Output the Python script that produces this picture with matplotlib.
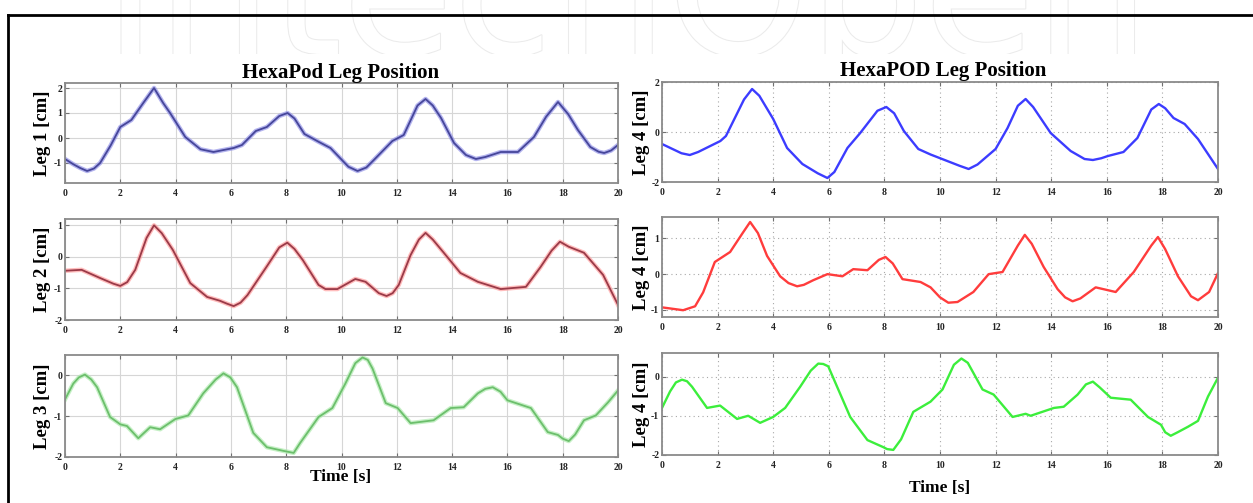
import numpy as np
import matplotlib
matplotlib.use("Agg")
import matplotlib.pyplot as plt
from matplotlib.lines import Line2D
import matplotlib.patheffects as pe

plt.rcParams.update({
    "font.family": "Liberation Serif", "axes.unicode_minus": False,
    "xtick.direction": "in", "ytick.direction": "in",
    "xtick.top": True, "ytick.right": True,
})

# ---- data: time [s] and position [cm] ----
leg1_t = [0, 0.3, 0.55, 0.8, 1.05, 1.27, 1.65, 2.0, 2.4, 2.83, 3.22, 3.55, 3.8, 4.35,
          4.9, 5.37, 6.1, 6.4, 6.9, 7.3, 7.75, 8.05, 8.3, 8.66, 9.17, 9.6, 10.25,
          10.58, 10.9, 11.17, 11.84, 12.25, 12.75, 13.04, 13.3, 13.6, 14.07, 14.5,
          14.86, 15.2, 15.76, 16.38, 16.96, 17.4, 17.83, 18.2, 18.55, 19.0, 19.3,
          19.5, 19.75, 20]
leg1_v = [-0.84, -1.05, -1.2, -1.32, -1.22, -1.0, -0.3, 0.44, 0.72, 1.4, 2.0, 1.4,
          1.0, 0.04, -0.45, -0.56, -0.4, -0.28, 0.28, 0.44, 0.88, 1.0, 0.78, 0.16,
          -0.15, -0.4, -1.15, -1.32, -1.18, -0.88, -0.12, 0.12, 1.3, 1.56, 1.3, 0.8,
          -0.2, -0.68, -0.84, -0.76, -0.56, -0.56, 0.04, 0.85, 1.44, 0.95, 0.32,
          -0.36, -0.55, -0.6, -0.5, -0.28]

leg2_t = [0, 0.6, 1.27, 1.75, 2.0, 2.25, 2.54, 2.95, 3.22, 3.5, 3.9, 4.53, 5.14, 5.6,
          5.85, 6.1, 6.35, 6.6, 7.3, 7.75, 8.04, 8.3, 8.6, 9.17, 9.42, 9.85, 10.5,
          10.87, 11.35, 11.63, 11.85, 12.07, 12.5, 12.8, 13.04, 13.3, 13.7, 14.3,
          14.93, 15.76, 16.67, 17.2, 17.6, 17.9, 18.22, 18.77, 19.46, 20]
leg2_v = [-0.44, -0.41, -0.67, -0.85, -0.92, -0.8, -0.41, 0.6, 1.0, 0.75, 0.22, -0.83,
          -1.27, -1.39, -1.48, -1.56, -1.45, -1.21, -0.3, 0.3, 0.45, 0.25, -0.1,
          -0.89, -1.02, -1.02, -0.7, -0.79, -1.15, -1.24, -1.15, -0.89, 0.06, 0.55,
          0.76, 0.55, 0.13, -0.51, -0.79, -1.02, -0.95, -0.32, 0.2, 0.48, 0.32, 0.13,
          -0.57, -1.52]

leg3_t = [0, 0.3, 0.5, 0.72, 0.95, 1.16, 1.63, 2.0, 2.24, 2.65, 3.08, 3.44, 3.99,
          4.46, 5.0, 5.45, 5.73, 5.98, 6.22, 6.81, 7.3, 7.9, 8.27, 8.5, 9.17, 9.67,
          10.14, 10.5, 10.76, 10.95, 11.12, 11.6, 12.03, 12.5, 13.33, 13.95, 14.42,
          14.93, 15.2, 15.47, 15.75, 16.0, 16.85, 17.46, 17.83, 18.0, 18.22, 18.45,
          18.77, 19.2, 19.64, 20]
leg3_v = [-0.59, -0.2, -0.05, 0.02, -0.1, -0.29, -1.02, -1.2, -1.24, -1.54, -1.27,
          -1.32, -1.07, -0.98, -0.44, -0.1, 0.05, -0.05, -0.29, -1.41, -1.76, -1.85,
          -1.9, -1.66, -1.02, -0.8, -0.2, 0.3, 0.44, 0.38, 0.17, -0.68, -0.8, -1.17,
          -1.1, -0.8, -0.78, -0.44, -0.33, -0.29, -0.4, -0.61, -0.8, -1.39, -1.46,
          -1.55, -1.61, -1.45, -1.1, -0.98, -0.66, -0.37]

leg4a_t = [0, 0.7, 1.0, 1.3, 2.1, 2.3, 2.95, 3.24, 3.5, 4.0, 4.5, 5.05, 5.6, 5.95,
           6.2, 6.67, 7.13, 7.75, 8.07, 8.35, 8.7, 9.22, 9.66, 10.7, 11.03, 11.35,
           12.0, 12.43, 12.8, 13.08, 13.35, 13.98, 14.7, 15.2, 15.5, 15.8, 16.04,
           16.6, 17.1, 17.6, 17.87, 18.1, 18.4, 18.8, 19.28, 20]
leg4a_v = [-0.48, -0.85, -0.92, -0.8, -0.36, -0.16, 1.3, 1.72, 1.45, 0.52, -0.64,
           -1.28, -1.65, -1.84, -1.6, -0.64, -0.04, 0.85, 1.0, 0.75, 0.04, -0.68,
           -0.9, -1.35, -1.48, -1.3, -0.68, 0.16, 1.05, 1.32, 1.0, -0.04, -0.76,
           -1.08, -1.12, -1.05, -0.96, -0.8, -0.24, 0.9, 1.12, 0.95, 0.56, 0.32,
           -0.28, -1.48]

leg4b_t = [0, 0.76, 1.19, 1.48, 1.9, 2.45, 2.9, 3.17, 3.45, 3.78, 4.25, 4.55, 4.86,
           5.1, 5.44, 5.95, 6.49, 6.88, 7.39, 7.8, 8.04, 8.3, 8.65, 9.3, 9.66, 10.0,
           10.3, 10.63, 11.2, 11.75, 12.25, 12.8, 13.05, 13.3, 13.73, 14.23, 14.5,
           14.77, 15.05, 15.6, 16.32, 16.97, 17.6, 17.84, 18.1, 18.56, 19.03, 19.28,
           19.68, 20]
leg4b_v = [-0.93, -1.01, -0.9, -0.51, 0.34, 0.62, 1.15, 1.46, 1.15, 0.51, -0.06,
           -0.25, -0.34, -0.3, -0.17, 0.0, -0.06, 0.14, 0.11, 0.4, 0.48, 0.3, -0.14,
           -0.22, -0.37, -0.65, -0.8, -0.78, -0.5, 0.0, 0.06, 0.8, 1.1, 0.85, 0.2,
           -0.42, -0.65, -0.76, -0.68, -0.37, -0.5, 0.06, 0.8, 1.04, 0.7, -0.06,
           -0.62, -0.73, -0.5, 0.03]

leg4c_t = [0, 0.29, 0.5, 0.72, 0.9, 1.08, 1.62, 2.09, 2.7, 3.1, 3.53, 4.0, 4.43,
           4.97, 5.35, 5.62, 5.8, 5.98, 6.77, 7.39, 7.96, 8.1, 8.32, 8.6, 9.04, 9.66,
           10.09, 10.5, 10.77, 11.0, 11.53, 11.93, 12.61, 13.08, 13.26, 14.1, 14.45,
           14.95, 15.25, 15.5, 15.75, 16.14, 16.86, 17.48, 17.95, 18.1, 18.3, 18.55,
           18.92, 19.28, 19.64, 20]
leg4c_v = [-0.8, -0.38, -0.15, -0.08, -0.12, -0.26, -0.8, -0.74, -1.08, -1.0, -1.18,
           -1.03, -0.8, -0.26, 0.15, 0.33, 0.32, 0.26, -1.03, -1.62, -1.8, -1.85,
           -1.87, -1.6, -0.9, -0.64, -0.33, 0.3, 0.46, 0.35, -0.33, -0.46, -1.03,
           -0.95, -1.0, -0.8, -0.77, -0.46, -0.2, -0.13, -0.28, -0.54, -0.59, -1.03,
           -1.23, -1.42, -1.51, -1.42, -1.28, -1.13, -0.51, -0.03]

W, H = 1253, 503
fig = plt.figure(figsize=(W / 100, H / 100), dpi=100)


def px_axes(x0, y0, x1, y1):
    return fig.add_axes([x0 / W, 1 - y1 / H, (x1 - x0) / W, (y1 - y0) / H])


# faint watermark across the top, clipped to the top band
wm = px_axes(0, 0, W, 54)
wm.set_axis_off()
wm.set_zorder(-10)
wm.text(0.5, 0.0, "IntechOpen", transform=wm.transAxes, ha="center",
        va="baseline", fontsize=130, family="DejaVu Sans", color="white",
        clip_on=True,
        path_effects=[pe.withStroke(linewidth=1.5, foreground="#ebebeb")])

# (bbox, data, ylim, yticks, ylabel, colours, left column?)
panels = [
    ((65, 83, 618, 183), (leg1_t, leg1_v), (-1.8, 2.2), [-1, 0, 1, 2], "Leg 1 [cm]",
     ("#9494e8", "#46469a"), True),
    ((65, 219, 618, 320), (leg2_t, leg2_v), (-2, 1.2), [-2, -1, 0, 1], "Leg 2 [cm]",
     ("#ffa0a0", "#9a3a48"), True),
    ((65, 355, 618, 457), (leg3_t, leg3_v), (-2, 0.5), [-2, -1, 0], "Leg 3 [cm]",
     ("#aeeaae", "#6cbf6c"), True),
    ((662, 82, 1218, 182), (leg4a_t, leg4a_v), (-2, 2), [-2, 0, 2], "Leg 4 [cm]",
     (None, "#3c3cff"), False),
    ((662, 217, 1218, 317), (leg4b_t, leg4b_v), (-1.2, 1.6), [-1, 0, 1], "Leg 4 [cm]",
     (None, "#ff3c3c"), False),
    ((662, 353, 1218, 455), (leg4c_t, leg4c_v), (-2, 0.6), [-2, -1, 0], "Leg 4 [cm]",
     (None, "#3cee3c"), False),
]

for bbox, (t, v), ylim, yt, ylab, (halo, core), left in panels:
    ax = px_axes(*bbox)
    if halo:
        ax.plot(t, v, color=halo, lw=3.2, alpha=0.7, solid_joinstyle="round")
        ax.plot(t, v, color=core, lw=1.3, solid_joinstyle="round")
    else:
        ax.plot(t, v, color=core, lw=1.7, solid_joinstyle="round")
    ax.set_xlim(0, 20)
    ax.set_ylim(*ylim)
    ax.set_xticks(range(0, 21, 2))
    ax.set_yticks(yt)
    ax.tick_params(length=3, width=0.8, color="#707070", pad=4, labelsize=7)
    ax.tick_params(axis="y", pad=2)
    for lb in ax.get_xticklabels() + ax.get_yticklabels():
        lb.set_fontweight("bold")
        lb.set_color("#222222")
    if left:
        ax.grid(True, color="#d6d6d6", lw=0.8, ls="-")
    else:
        ax.grid(True, color="#a8a8a8", lw=0.8, ls=(0, (1, 3)))
    for s in ax.spines.values():
        s.set_color("#8a8a8a")
        s.set_linewidth(1.3)
    ax.set_ylabel(ylab, fontsize=13.5, fontweight="bold", labelpad=2 if left else 1)

fig.text(341 / W, 1 - 73 / H, "HexaPod Leg Position", ha="center", va="center",
         fontsize=15, fontweight="bold")
fig.text(943 / W, 1 - 71 / H, "HexaPOD Leg Position", ha="center", va="center",
         fontsize=15, fontweight="bold")
fig.text(341 / W, 1 - 477 / H, "Time [s]", ha="center", va="center",
         fontsize=12.5, fontweight="bold")
fig.text(940 / W, 1 - 488 / H, "Time [s]", ha="center", va="center",
         fontsize=12.5, fontweight="bold")

# black frame
fig.add_artist(Line2D([8 / W, 8 / W], [0, 1 - 15 / H], color="black", lw=2))
fig.add_artist(Line2D([8 / W, 1], [1 - 15 / H, 1 - 15 / H], color="black", lw=2))

fig.savefig("out.png", dpi=100)
